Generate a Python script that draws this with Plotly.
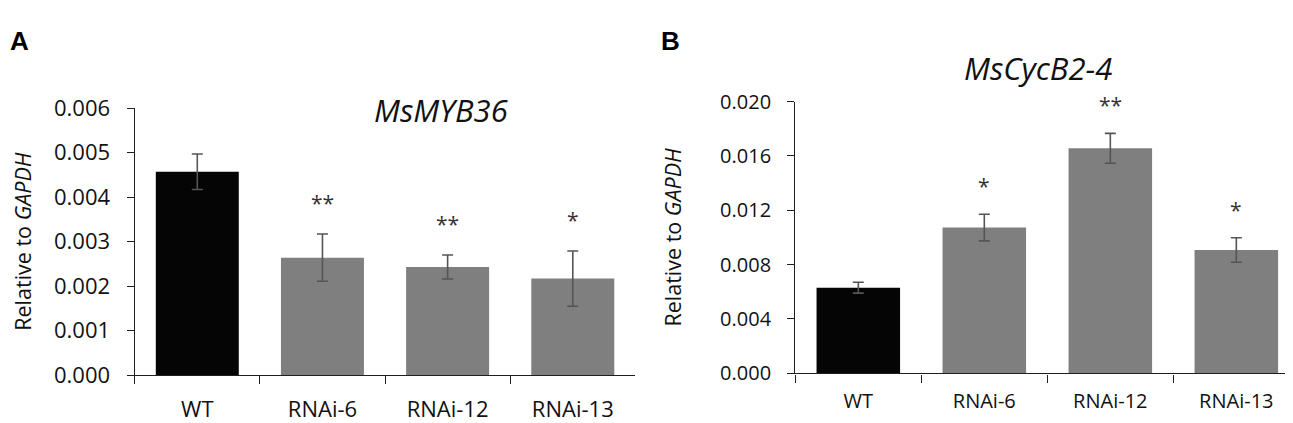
import plotly.graph_objects as go

# data
lines = ["WT", "RNAi-6", "RNAi-12", "RNAi-13"]
bar_colors = ["#050505", "#7f7f7f", "#7f7f7f", "#7f7f7f"]

myb36_mean = [0.00457, 0.00264, 0.00243, 0.00217]
myb36_err = [0.00040, 0.00053, 0.00027, 0.00062]
myb36_stars = ["", "**", "**", "*"]

cycb_mean = [0.00630, 0.01073, 0.01656, 0.00908]
cycb_err = [0.00040, 0.00098, 0.00110, 0.00090]
cycb_stars = ["", "*", "**", "*"]

myb36_ticks = [0.000, 0.001, 0.002, 0.003, 0.004, 0.005, 0.006]
cycb_ticks = [0.000, 0.004, 0.008, 0.012, 0.016, 0.020]

W, H = 1293, 423
FONT = "Open Sans"
AXIS_COLOR = "#1f1f1f"
ERR_COLOR = "#555555"
TEXT_COLOR = "#111111"

fig = go.Figure()


def add_panel(fig, mean, err, xref, yref):
    fig.add_trace(go.Bar(
        x=lines,
        y=mean,
        marker=dict(color=bar_colors, line=dict(width=0)),
        error_y=dict(type="data", array=err, visible=True,
                     color=ERR_COLOR, thickness=1.6, width=5.5),
        xaxis=xref,
        yaxis=yref,
        showlegend=False,
        hoverinfo="skip",
    ))


def add_stars(fig, mean, err, stars, xref, yref, shift):
    for cat, m, e, s in zip(lines, mean, err, stars):
        if not s:
            continue
        fig.add_annotation(
            x=cat, y=m + e, xref=xref, yref=yref,
            text=s, showarrow=False, xanchor="center", yanchor="bottom", yshift=shift,
            font=dict(family=FONT, size=21, color="#333333"),
        )


def axes(tick_size, x_standoff, y_standoff, title_standoff):
    xa = dict(
        type="category",
        showline=True, linecolor=AXIS_COLOR, linewidth=1.4,
        ticks="outside", tickson="boundaries", ticklen=8,
        tickcolor=AXIS_COLOR, tickwidth=1.4,
        showgrid=False, zeroline=False,
        tickfont=dict(family=FONT, size=tick_size, color=TEXT_COLOR),
        ticklabelstandoff=x_standoff,
        fixedrange=True,
    )
    ya = dict(
        showline=True, linecolor=AXIS_COLOR, linewidth=1.4,
        ticks="outside", ticklen=7, tickcolor=AXIS_COLOR, tickwidth=1.4,
        showgrid=False, zeroline=False,
        tickfont=dict(family=FONT, size=tick_size, color=TEXT_COLOR),
        ticklabelstandoff=y_standoff,
        tickformat=".3f",
        title=dict(text="Relative to <i>GAPDH</i>", standoff=title_standoff,
                   font=dict(family=FONT, size=21.5, color=TEXT_COLOR)),
        fixedrange=True,
    )
    return xa, ya


xa1, ya1 = axes(22, 14, 12, 22)
xa2, ya2 = axes(20, 9, 12, 32)

add_panel(fig, myb36_mean, myb36_err, "x", "y")
add_panel(fig, cycb_mean, cycb_err, "x2", "y2")
add_stars(fig, myb36_mean, myb36_err, myb36_stars, "x", "y", 15)
add_stars(fig, cycb_mean, cycb_err, cycb_stars, "x2", "y2", 12)

fig.update_layout(
    width=W, height=H,
    margin=dict(l=0, r=0, t=0, b=0),
    paper_bgcolor="white", plot_bgcolor="white",
    bargap=0.337,
    xaxis=dict(xa1, domain=[0.098, 0.4852], anchor="y"),
    yaxis=dict(ya1, domain=[0.1064, 0.786], range=[0, 0.006],
               tickvals=myb36_ticks, anchor="x"),
    xaxis2=dict(xa2, domain=[0.6089, 0.9987], anchor="y2"),
    yaxis2=dict(ya2, domain=[0.1111, 0.8026], range=[0, 0.020],
                tickvals=cycb_ticks, anchor="x2"),
)

# panel titles and letters (pixel positions converted to paper fractions)
fig.add_annotation(x=433 / W, y=1 - 93 / H, xref="paper", yref="paper",
                   text="<i>MsMYB36</i>", showarrow=False,
                   xanchor="center", yanchor="middle",
                   font=dict(family=FONT, size=31, color=TEXT_COLOR))
fig.add_annotation(x=1030 / W, y=1 - 47 / H, xref="paper", yref="paper",
                   text="<i>MsCycB2-4</i>", showarrow=False,
                   xanchor="center", yanchor="middle",
                   font=dict(family=FONT, size=31, color=TEXT_COLOR))
fig.add_annotation(x=0, y=1, xref="paper", yref="paper", text="<b>A</b>",
                   showarrow=False, xanchor="left", yanchor="top",
                   font=dict(family="Liberation Sans", size=26, color="black"))
fig.add_annotation(x=651 / W, y=1, xref="paper", yref="paper", text="<b>B</b>",
                   showarrow=False, xanchor="left", yanchor="top",
                   font=dict(family="Liberation Sans", size=26, color="black"))

fig.write_html("out.html")
